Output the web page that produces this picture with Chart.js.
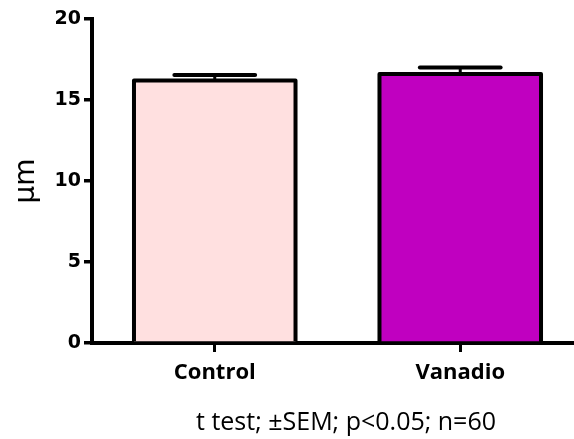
<!DOCTYPE html>
<html>
<head>
<meta charset="utf-8">
<script src="https://cdn.jsdelivr.net/npm/chart.js@4"></script>
<style>
  html, body { margin: 0; padding: 0; background: #fff; overflow: hidden; }
  #wrap { width: 574px; height: 439px; overflow: hidden; }
</style>
</head>
<body>
<div id="wrap"><canvas id="chart" width="600" height="439"></canvas></div>
<script>
// values
const groups = ['Control', 'Vanadio'];
const means = [16.2, 16.6];
const sems = [0.35, 0.4];
const fills = ['#FFE0E0', '#C000C0'];
const yTicks = [0, 5, 10, 15, 20];
const caption = 't test; \u00B1SEM; p<0.05; n=60';

// outline + upper SEM bar for each column, drawn from the bar elements
const errorBars = {
  id: 'errorBars',
  afterDatasetsDraw(chart) {
    const { ctx, scales: { y } } = chart;
    const meta = chart.getDatasetMeta(0);
    ctx.save();
    ctx.strokeStyle = '#000';
    meta.data.forEach((bar, i) => {
      const half = bar.width / 2;
      // outline (no bottom edge)
      ctx.lineWidth = 4;
      ctx.lineJoin = 'round';
      ctx.beginPath();
      ctx.moveTo(bar.x - half, bar.base);
      ctx.lineTo(bar.x - half, bar.y);
      ctx.lineTo(bar.x + half, bar.y);
      ctx.lineTo(bar.x + half, bar.base);
      ctx.stroke();
      // SEM
      const top = y.getPixelForValue(means[i] + sems[i]);
      ctx.lineWidth = 3;
      ctx.beginPath();
      ctx.moveTo(bar.x, bar.y);
      ctx.lineTo(bar.x, top);
      ctx.stroke();
      ctx.lineWidth = 4;
      ctx.lineCap = 'round';
      ctx.beginPath();
      ctx.moveTo(bar.x - half / 2, top);
      ctx.lineTo(bar.x + half / 2, top);
      ctx.stroke();
    });
    ctx.restore();
  }
};

const captionText = {
  id: 'captionText',
  afterDraw(chart) {
    const { ctx } = chart;
    ctx.save();
    ctx.fillStyle = '#000';
    ctx.font = '25px "Open Sans"';
    ctx.textAlign = 'center';
    ctx.textBaseline = 'middle';
    ctx.fillText(caption, 346, 423);
    ctx.restore();
  }
};

new Chart(document.getElementById('chart'), {
  type: 'bar',
  data: {
    labels: groups,
    datasets: [{
      data: means,
      backgroundColor: fills,
      borderWidth: 0,
      categoryPercentage: 1,
      barPercentage: 0.658
    }]
  },
  plugins: [errorBars, captionText],
  options: {
    responsive: false,
    animation: false,
    devicePixelRatio: 1,
    layout: { padding: { top: 19, right: 17, left: 0, bottom: 0 } },
    plugins: {
      legend: { display: false },
      tooltip: { enabled: false }
    },
    scales: {
      x: {
        z: 1,
        grid: { offset: false, drawOnChartArea: false, tickLength: 9, lineWidth: 3, color: '#000' },
        border: { color: '#000', width: 4 },
        ticks: { color: '#000', padding: 8, font: { family: '"Open Sans"', size: 22, weight: 'bold' } },
        afterFit(s) { s.height = 96; }
      },
      y: {
        min: 0,
        max: 20,
        afterBuildTicks(s) { s.ticks = yTicks.map(v => ({ value: v })); },
        grid: { drawOnChartArea: false, tickLength: 8, lineWidth: 3.5, color: '#000' },
        border: { color: '#000', width: 4 },
        ticks: { color: '#000', padding: 3, font: { family: '"DejaVu Sans"', size: 19, weight: 'bold' } },
        title: {
          display: true,
          text: '\u00B5m',
          color: '#000',
          padding: { top: 10, bottom: 0 },
          font: { family: '"DejaVu Sans"', size: 28 }
        },
        afterFit(s) { s.width = 92; }
      }
    }
  }
});
</script>
</body>
</html>
